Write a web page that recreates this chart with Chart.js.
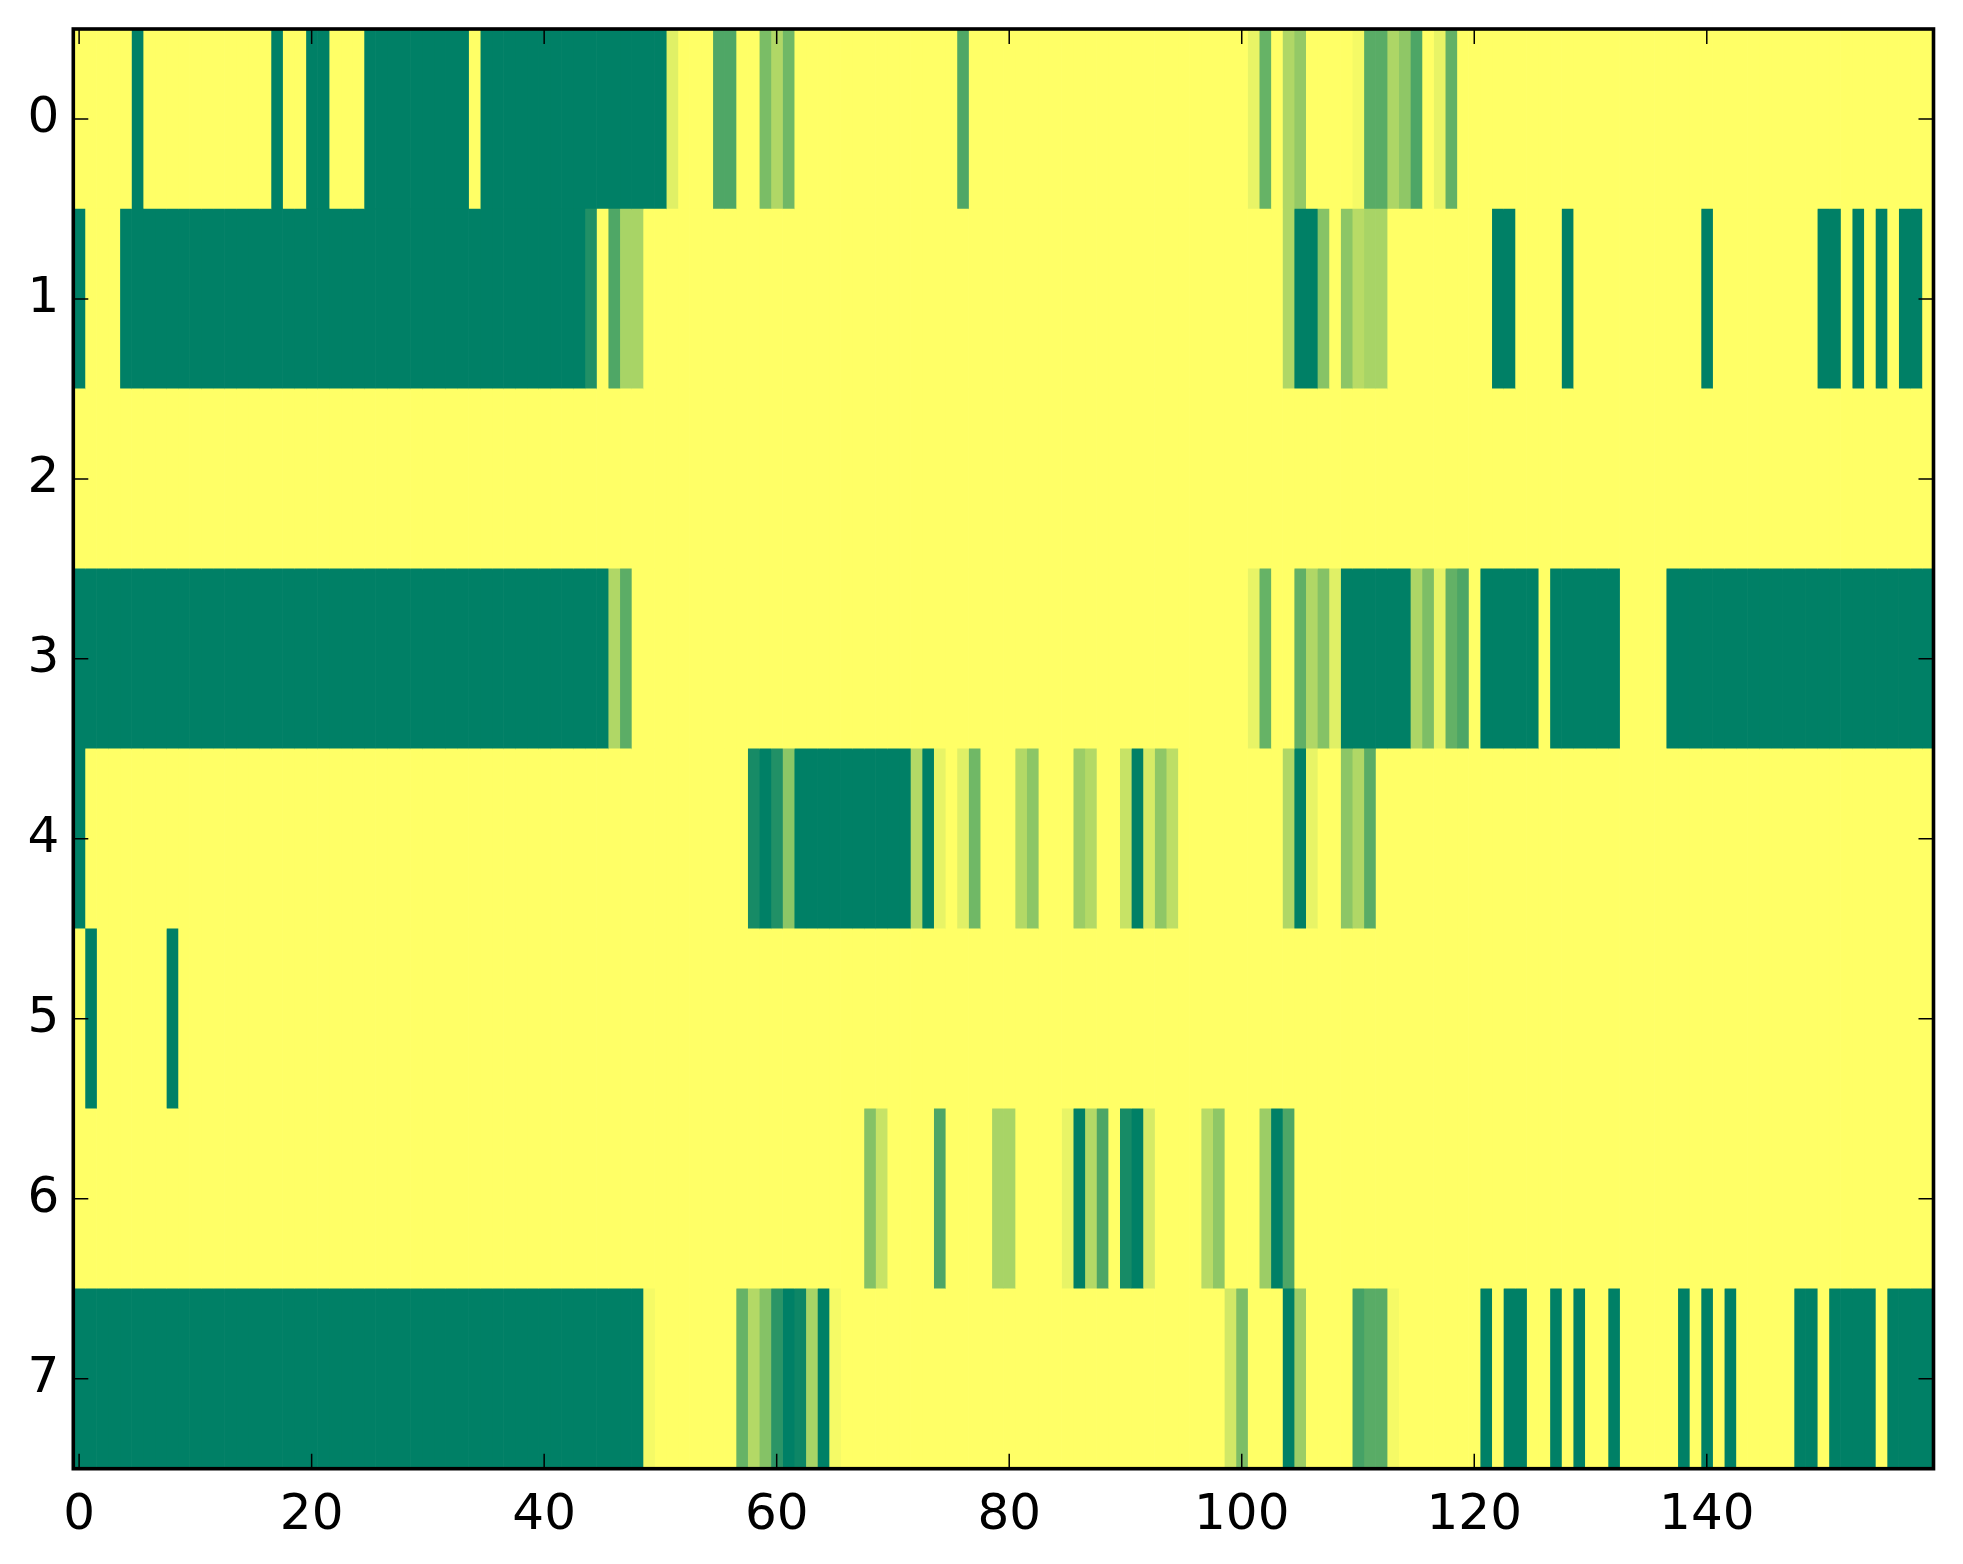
<!DOCTYPE html>
<html>
<head>
<meta charset="utf-8">
<script src="https://cdn.jsdelivr.net/npm/chart.js@4.4.1/dist/chart.umd.min.js"></script>
<style>
  html, body { margin: 0; padding: 0; background: #fff; }
  .heat-wrap { width: 1963px; height: 1564px; position: relative; }
</style>
</head>
<body>
<div class="heat-wrap"><canvas id="heat"></canvas></div>
<script>
const rowLabels = ["0", "1", "2", "3", "4", "5", "6", "7"];
const xTickValues = [0, 20, 40, 60, 80, 100, 120, 140];

//one array per image row, 160 cells each, values 0..1
const row0 = [
  1, 1, 1, 1, 1, 0, 1, 1, 1, 1,   1, 1, 1, 1, 1, 1, 1, 0, 1, 1,
  0, 0, 1, 1, 1, 0, 0, 0, 0, 0,   0, 0, 0, 0, 1, 0, 0, 0, 0, 0,
  0, 0, 0, 0, 0, 0, 0, 0, 0, 0,   0, .88, 1, 1, 1, .31, .31, 1, 1, .48,
  .69, .44, 1, 1, 1, 1, 1, 1, 1, 1,   1, 1, 1, 1, 1, 1, .31, 1, 1, 1,
  1, 1, 1, 1, 1, 1, 1, 1, 1, 1,   1, 1, 1, 1, 1, 1, 1, 1, 1, 1,
  1, .91, .40, 1, .69, .58, 1, 1, 1, 1,   .96, .35, .35, .68, .56, .30, 1, .91, .39, 1,
  1, 1, 1, 1, 1, 1, 1, 1, 1, 1,   1, 1, 1, 1, 1, 1, 1, 1, 1, 1,
  1, 1, 1, 1, 1, 1, 1, 1, 1, 1,   1, 1, 1, 1, 1, 1, 1, 1, 1, 1,
];
const row1 = [
  0, 1, 1, 1, 0, 0, 0, 0, 0, 0,   0, 0, 0, 0, 0, 0, 0, 0, 0, 0,
  0, 0, 0, 0, 0, 0, 0, 0, 0, 0,   0, 0, 0, 0, 0, 0, 0, 0, 0, 0,
  0, 0, 0, 0, .13, 1, .31, .66, .66, 1,   1, 1, 1, 1, 1, 1, 1, 1, 1, 1,
  1, 1, 1, 1, 1, 1, 1, 1, 1, 1,   1, 1, 1, 1, 1, 1, 1, 1, 1, 1,
  1, 1, 1, 1, 1, 1, 1, 1, 1, 1,   1, 1, 1, 1, 1, 1, 1, 1, 1, 1,
  1, 1, 1, 1, .69, 0, 0, .53, 1, .55,   .72, .66, .66, 1, 1, 1, 1, 1, 1, 1,
  1, 1, 0, 0, 1, 1, 1, 1, 0, 1,   1, 1, 1, 1, 1, 1, 1, 1, 1, 1,
  0, 1, 1, 1, 1, 1, 1, 1, 1, 1,   0, 0, 1, 0, 1, 0, 1, 0, 0, 1,
];
const row2 = [
  1, 1, 1, 1, 1, 1, 1, 1, 1, 1,   1, 1, 1, 1, 1, 1, 1, 1, 1, 1,
  1, 1, 1, 1, 1, 1, 1, 1, 1, 1,   1, 1, 1, 1, 1, 1, 1, 1, 1, 1,
  1, 1, 1, 1, 1, 1, 1, 1, 1, 1,   1, 1, 1, 1, 1, 1, 1, 1, 1, 1,
  1, 1, 1, 1, 1, 1, 1, 1, 1, 1,   1, 1, 1, 1, 1, 1, 1, 1, 1, 1,
  1, 1, 1, 1, 1, 1, 1, 1, 1, 1,   1, 1, 1, 1, 1, 1, 1, 1, 1, 1,
  1, 1, 1, 1, 1, 1, 1, 1, 1, 1,   1, 1, 1, 1, 1, 1, 1, 1, 1, 1,
  1, 1, 1, 1, 1, 1, 1, 1, 1, 1,   1, 1, 1, 1, 1, 1, 1, 1, 1, 1,
  1, 1, 1, 1, 1, 1, 1, 1, 1, 1,   1, 1, 1, 1, 1, 1, 1, 1, 1, 1,
];
const row3 = [
  0, 0, 0, 0, 0, 0, 0, 0, 0, 0,   0, 0, 0, 0, 0, 0, 0, 0, 0, 0,
  0, 0, 0, 0, 0, 0, 0, 0, 0, 0,   0, 0, 0, 0, 0, 0, 0, 0, 0, 0,
  0, 0, 0, 0, 0, 0, .69, .36, 1, 1,   1, 1, 1, 1, 1, 1, 1, 1, 1, 1,
  1, 1, 1, 1, 1, 1, 1, 1, 1, 1,   1, 1, 1, 1, 1, 1, 1, 1, 1, 1,
  1, 1, 1, 1, 1, 1, 1, 1, 1, 1,   1, 1, 1, 1, 1, 1, 1, 1, 1, 1,
  1, .91, .40, 1, 1, .38, .69, .52, .88, 0,   0, 0, 0, 0, 0, .68, .49, .91, .39, .30,
  1, 0, 0, 0, 0, 0, 1, 0, 0, 0,   0, 0, 0, 1, 1, 1, 1, 0, 0, 0,
  0, 0, 0, 0, 0, 0, 0, 0, 0, 0,   0, 0, 0, 0, 0, 0, 0, 0, 0, 0,
];
const row4 = [
  0, 1, 1, 1, 1, 1, 1, 1, 1, 1,   1, 1, 1, 1, 1, 1, 1, 1, 1, 1,
  1, 1, 1, 1, 1, 1, 1, 1, 1, 1,   1, 1, 1, 1, 1, 1, 1, 1, 1, 1,
  1, 1, 1, 1, 1, 1, 1, 1, 1, 1,   1, 1, 1, 1, 1, 1, 1, 1, .09, 0,
  .13, .55, 0, 0, 0, 0, 0, 0, 0, 0,   0, 0, .70, 0, .91, 1, .88, .44, 1, 1,
  1, .70, .55, 1, 1, 1, .61, .70, 1, 1,   .78, 0, .84, .56, .74, 1, 1, 1, 1, 1,
  1, 1, 1, 1, .69, 0, .91, 1, 1, .55,   .69, .35, 1, 1, 1, 1, 1, 1, 1, 1,
  1, 1, 1, 1, 1, 1, 1, 1, 1, 1,   1, 1, 1, 1, 1, 1, 1, 1, 1, 1,
  1, 1, 1, 1, 1, 1, 1, 1, 1, 1,   1, 1, 1, 1, 1, 1, 1, 1, 1, 1,
];
const row5 = [
  1, 0, 1, 1, 1, 1, 1, 1, 0, 1,   1, 1, 1, 1, 1, 1, 1, 1, 1, 1,
  1, 1, 1, 1, 1, 1, 1, 1, 1, 1,   1, 1, 1, 1, 1, 1, 1, 1, 1, 1,
  1, 1, 1, 1, 1, 1, 1, 1, 1, 1,   1, 1, 1, 1, 1, 1, 1, 1, 1, 1,
  1, 1, 1, 1, 1, 1, 1, 1, 1, 1,   1, 1, 1, 1, 1, 1, 1, 1, 1, 1,
  1, 1, 1, 1, 1, 1, 1, 1, 1, 1,   1, 1, 1, 1, 1, 1, 1, 1, 1, 1,
  1, 1, 1, 1, 1, 1, 1, 1, 1, 1,   1, 1, 1, 1, 1, 1, 1, 1, 1, 1,
  1, 1, 1, 1, 1, 1, 1, 1, 1, 1,   1, 1, 1, 1, 1, 1, 1, 1, 1, 1,
  1, 1, 1, 1, 1, 1, 1, 1, 1, 1,   1, 1, 1, 1, 1, 1, 1, 1, 1, 1,
];
const row6 = [
  1, 1, 1, 1, 1, 1, 1, 1, 1, 1,   1, 1, 1, 1, 1, 1, 1, 1, 1, 1,
  1, 1, 1, 1, 1, 1, 1, 1, 1, 1,   1, 1, 1, 1, 1, 1, 1, 1, 1, 1,
  1, 1, 1, 1, 1, 1, 1, 1, 1, 1,   1, 1, 1, 1, 1, 1, 1, 1, 1, 1,
  1, 1, 1, 1, 1, 1, 1, 1, .52, .78,   1, 1, 1, 1, .30, 1, 1, 1, 1, .66,
  .66, 1, 1, 1, 1, .91, 0, .70, .30, 1,   .09, 0, .84, 1, 1, 1, 1, .72, .56, 1,
  1, 1, .61, 0, .30, 1, 1, 1, 1, 1,   1, 1, 1, 1, 1, 1, 1, 1, 1, 1,
  1, 1, 1, 1, 1, 1, 1, 1, 1, 1,   1, 1, 1, 1, 1, 1, 1, 1, 1, 1,
  1, 1, 1, 1, 1, 1, 1, 1, 1, 1,   1, 1, 1, 1, 1, 1, 1, 1, 1, 1,
];
const row7 = [
  0, 0, 0, 0, 0, 0, 0, 0, 0, 0,   0, 0, 0, 0, 0, 0, 0, 0, 0, 0,
  0, 0, 0, 0, 0, 0, 0, 0, 0, 0,   0, 0, 0, 0, 0, 0, 0, 0, 0, 0,
  0, 0, 0, 0, 0, 0, 0, 0, 0, .96,   1, 1, 1, 1, 1, 1, 1, .40, .70, .52,
  .17, 0, .05, .66, 0, .96, 1, 1, 1, 1,   1, 1, 1, 1, 1, 1, 1, 1, 1, 1,
  1, 1, 1, 1, 1, 1, 1, 1, 1, 1,   1, 1, 1, 1, 1, 1, 1, 1, 1, .82,
  .49, 1, 1, 1, 0, .61, 1, 1, 1, 1,   .27, .35, .35, .96, 1, 1, 1, 1, 1, 1,
  1, 0, 1, 0, 0, 1, 1, 0, 1, 0,   1, 1, 0, 1, 1, 1, 1, 1, 0, 1,
  0, 1, 0, 1, 1, 1, 1, 1, 0, 0,   1, 0, 0, 0, 0, 1, 0, 0, 0, 0,
];

const grid = [row0, row1, row2, row3, row4, row5, row6, row7];

//matplotlib "summer" colormap: 0 -> green, 1 -> yellow
function summer(v) {
  const r = Math.round(255 * v);
  const g = Math.round(255 * (0.5 + v / 2));
  return `rgb(${r},${g},102)`;
}

//every column is one dataset of floating horizontal bars, one per row
const datasets = grid[0].map((_, col) => ({
  data: grid.map(() => [col - 0.5, col + 0.5]),
  backgroundColor: grid.map((row) => summer(row[col])),
  borderWidth: 0,
  barPercentage: 1,
  categoryPercentage: 1,
  grouped: false,
}));

//matplotlib classic look: black box, ticks pointing inwards on all sides
const framePlugin = {
  id: "frame",
  afterDatasetsDraw(chart) {
    const { ctx, chartArea: a, scales } = chart;
    const len = 15;
    ctx.save();
    ctx.strokeStyle = "#000";
    ctx.lineWidth = 1.5;
    ctx.beginPath();
    scales.x.ticks.forEach((t) => {
      const px = scales.x.getPixelForValue(t.value);
      ctx.moveTo(px, a.bottom);
      ctx.lineTo(px, a.bottom - len);
      ctx.moveTo(px, a.top);
      ctx.lineTo(px, a.top + len);
    });
    scales.y.ticks.forEach((t, i) => {
      const py = scales.y.getPixelForTick(i);
      ctx.moveTo(a.left, py);
      ctx.lineTo(a.left + len, py);
      ctx.moveTo(a.right, py);
      ctx.lineTo(a.right - len, py);
    });
    ctx.stroke();
    ctx.lineWidth = 3.6;
    ctx.strokeRect(a.left, a.top, a.right - a.left, a.bottom - a.top);
    ctx.restore();
  },
};

//drop the extra room chart.js reserves for edge labels
function noEdgePadding(scale) {
  scale.paddingTop = 0;
  scale.paddingBottom = 0;
  scale.paddingLeft = 0;
  scale.paddingRight = 0;
}

Chart.defaults.font.family = "'DejaVu Sans', sans-serif";
Chart.defaults.font.size = 50;
Chart.defaults.color = "#000";

new Chart(document.getElementById("heat"), {
  type: "bar",
  data: { labels: rowLabels, datasets },
  options: {
    indexAxis: "y",
    responsive: true,
    maintainAspectRatio: false,
    animation: false,
    devicePixelRatio: 1,
    layout: { padding: { top: 29, right: 29.5, left: 0, bottom: 0 } },
    plugins: {
      legend: { display: false },
      tooltip: { enabled: false },
    },
    scales: {
      x: {
        type: "linear",
        min: -0.5,
        max: 159.5,
        grid: { display: false, drawTicks: false },
        border: { display: false },
        afterBuildTicks: (scale) => {
          scale.ticks = xTickValues.map((v) => ({ value: v }));
        },
        afterFit: (scale) => {
          scale.height = 95.3;
          noEdgePadding(scale);
        },
        ticks: {
          autoSkip: false,
          maxRotation: 0,
          padding: 17,
          callback: (v) => String(v),
        },
      },
      y: {
        type: "category",
        offset: true,
        grid: { display: false, drawTicks: false },
        border: { display: false },
        afterFit: (scale) => {
          scale.width = 73.3;
          noEdgePadding(scale);
        },
        ticks: { padding: 14 },
      },
    },
  },
  plugins: [framePlugin],
});
</script>
</body>
</html>
